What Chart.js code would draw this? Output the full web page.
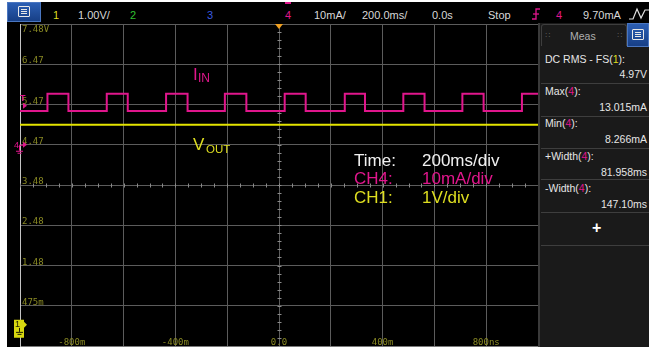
<!DOCTYPE html>
<html>
<head>
<meta charset="utf-8">
<script src="https://cdn.jsdelivr.net/npm/chart.js@4.4.0/dist/chart.umd.min.js"></script>
<style>
body { margin:0; width:649px; height:348px; overflow:hidden; background:#fff; font-family:"Liberation Sans", Arial, sans-serif; }
#scope { position:absolute; left:7px; top:2px; width:642px; height:345px; background:#000; }
#plot { position:absolute; left:7px; top:23px; background:#000; }
.t { position:absolute; line-height:1; white-space:nowrap; }
.bar { font-size:11px; color:#d8d8d8; top:10px; }
.btn { position:absolute; background:linear-gradient(#2c5fb4,#173f86); border:1px solid #4a76c0; box-sizing:border-box; }
.ico { position:absolute; left:50%; top:50%; width:12px; height:11px; margin:-6px 0 0 -6px; border:1px solid #e8e8e8; border-radius:1px; box-sizing:border-box; }
.ico div { position:absolute; left:2px; right:2px; height:1px; background:#e8e8e8; }
#panel { position:absolute; left:538px; top:23px; width:111px; height:324px; background:#1a1a1a; border-left:2px solid #3a3a3a; box-sizing:border-box; }
.sep { position:absolute; left:541px; width:108px; height:1px; background:#3e3e3e; }
.m { font-size:10.5px; color:#e6e6e6; }
.v { right:2px; }
.mag { color:#e0168c; }
.yel { color:#dede20; }
.ann { font-size:17px; }
</style>
</head>
<body>
<div id="scope"></div>

<!-- top status bar -->
<div class="btn" style="left:7px;top:2px;width:34px;height:20px;"><div class="ico"><div style="top:2px"></div><div style="top:4px"></div><div style="top:6px"></div></div></div>
<div class="t bar yel" style="left:53px;">1</div>
<div class="t bar" style="left:78px;">1.00V/</div>
<div class="t bar" style="left:130px;color:#30c030;">2</div>
<div class="t bar" style="left:207px;color:#3a5ae0;">3</div>
<div class="t bar mag" style="left:285px;">4</div>
<div style="position:absolute;left:285px;top:2px;width:6px;height:2px;background:#e0168c;"></div>
<div class="t bar" style="left:314px;">10mA/</div>
<div class="t bar" style="left:362px;">200.0ms/</div>
<div class="t bar" style="left:432px;">0.0s</div>
<div class="t bar" style="left:488px;">Stop</div>
<svg style="position:absolute;left:531px;top:8px;" width="10" height="12"><polyline points="1,11 5,11 5,1 9,1" fill="none" stroke="#e0168c" stroke-width="1.3"/><line x1="2" y1="6" x2="8" y2="6" stroke="#e0168c" stroke-width="1.3"/></svg>
<div class="t bar mag" style="left:556px;">4</div>
<div class="t bar" style="left:583px;">9.70mA</div>
<svg style="position:absolute;left:628px;top:7px;" width="21" height="14"><polyline points="1,12 5,12 9,2 13,11 17,3 21,3" fill="none" stroke="#e0e0e0" stroke-width="1.2"/></svg>

<canvas id="plot" width="532" height="324"></canvas>

<!-- on-screen annotations -->
<div class="t ann mag" style="left:193px;top:66px;">I</div>
<div class="t mag" style="left:198px;top:72px;font-size:12px;">IN</div>
<div class="t ann yel" style="left:193px;top:136px;">V</div>
<div class="t yel" style="left:206px;top:144px;font-size:11.5px;">OUT</div>
<div class="t ann" style="left:354px;top:152px;color:#f0f0f0;">Time:</div>
<div class="t ann" style="left:422px;top:152px;color:#f0f0f0;">200ms/div</div>
<div class="t ann mag" style="left:354px;top:170px;">CH4:</div>
<div class="t ann mag" style="left:422px;top:170px;">10mA/div</div>
<div class="t ann yel" style="left:354px;top:189px;">CH1:</div>
<div class="t ann yel" style="left:422px;top:189px;">1V/div</div>

<!-- measurement panel -->
<div id="panel"></div>
<div style="position:absolute;left:541px;top:24px;width:86px;height:22px;border:1px solid #3e3e3e;border-bottom:none;border-radius:3px 3px 0 0;box-sizing:border-box;"></div>
<div class="t m" style="left:570px;top:31px;color:#b0b0b0;">Meas</div>
<div class="t" style="left:545px;top:31px;font-size:8px;color:#777;letter-spacing:1px;">::</div>
<div class="t" style="left:617px;top:31px;font-size:8px;color:#777;letter-spacing:1px;">::</div>
<div class="btn" style="left:627px;top:23px;width:22px;height:24px;"><div class="ico"><div style="top:2px"></div><div style="top:4px"></div><div style="top:6px"></div></div></div>
<div class="t m" style="left:545px;top:54px;">DC RMS - FS(<span class="yel">1</span>):</div>
<div class="t m v" style="top:69px;">4.97V</div>
<div class="sep" style="top:83px;"></div>
<div class="t m" style="left:545px;top:86px;">Max(<span class="mag">4</span>):</div>
<div class="t m v" style="top:102px;">13.015mA</div>
<div class="sep" style="top:116px;"></div>
<div class="t m" style="left:545px;top:118px;">Min(<span class="mag">4</span>):</div>
<div class="t m v" style="top:134px;">8.266mA</div>
<div class="sep" style="top:148px;"></div>
<div class="t m" style="left:545px;top:151px;">+Width(<span class="mag">4</span>):</div>
<div class="t m v" style="top:167px;">81.958ms</div>
<div class="sep" style="top:179px;"></div>
<div class="t m" style="left:545px;top:183px;">-Width(<span class="mag">4</span>):</div>
<div class="t m v" style="top:199px;">147.10ms</div>
<div class="sep" style="top:212px;"></div>
<div class="t" style="left:592px;top:220px;font-size:16px;font-weight:bold;color:#fff;">+</div>
<div class="sep" style="top:245px;"></div>

<script>
// time in ms, CH1 in volts, CH4 in mA
var riseTimes = [-894, -665, -436, -209, 22, 254, 480, 708, 938];
var fallTimes = [-813, -584, -353, -126, 103, 332, 562, 790];
var currentLow = 8.4;
var currentHigh = 12.7;
var voutLevel = 4.97;
var triggerLevel = 9.70;

// CH1 grid rows (volts) and the labels the scope prints on them
var yTickVals = [-0.525, 0.475, 1.475, 2.475, 3.475, 4.475, 5.475, 6.475, 7.475];
var yTickText = ['', '475m', '1.48', '2.48', '3.48', '4.47', '5.47', '6.47', '7.48V'];
var xLabelVals = [-800, -400, 0, 400, 800];
var xLabelText = ['-800m', '-400m', '0.0', '400m', '800ns'];

function buildCurrent() { // square wave from the edge times
  var pts = [{x: -1000, y: currentLow}];
  for (var i = 0; i < riseTimes.length; i++) {
    pts.push({x: riseTimes[i], y: currentLow}, {x: riseTimes[i], y: currentHigh});
    if (i < fallTimes.length) {
      pts.push({x: fallTimes[i], y: currentHigh}, {x: fallTimes[i], y: currentLow});
    }
  }
  pts.push({x: 1000, y: currentHigh});
  return pts;
}

var olive = '#8a8a24';

var scopeMarks = {
  id: 'scopeMarks',
  beforeDatasetsDraw: function(chart) {
    var ctx = chart.ctx, a = chart.chartArea;
    var sx = chart.scales.x, sy = chart.scales.y;
    ctx.save();
    // minor ticks on the centre lines
    ctx.strokeStyle = '#8a8a8a';
    ctx.lineWidth = 1;
    var cy = Math.round(sy.getPixelForValue(3.475)) + 0.5;
    for (var t = -1000; t <= 1000; t += 50) {
      var px = Math.round(sx.getPixelForValue(t)) + 0.5;
      ctx.beginPath(); ctx.moveTo(px, cy - 2); ctx.lineTo(px, cy + 2); ctx.stroke();
    }
    var cx = Math.round(sx.getPixelForValue(0)) + 0.5;
    for (var v = -0.525; v <= 7.5; v += 0.2) {
      var py = Math.round(sy.getPixelForValue(v)) + 0.5;
      ctx.beginPath(); ctx.moveTo(cx - 2, py); ctx.lineTo(cx + 2, py); ctx.stroke();
    }
    // axis labels
    ctx.fillStyle = olive;
    ctx.font = '9px "DejaVu Sans Mono", monospace';
    ctx.textAlign = 'left';
    ctx.textBaseline = 'alphabetic';
    for (var i = 0; i < yTickVals.length; i++) {
      if (!yTickText[i]) continue;
      var ly = sy.getPixelForValue(yTickVals[i]);
      if (i === yTickVals.length - 1) ly = a.top + 8; else ly = ly - 1;
      ctx.fillText(yTickText[i], a.left + 2, ly);
    }
    ctx.textAlign = 'center';
    for (var j = 0; j < xLabelVals.length; j++) {
      ctx.fillText(xLabelText[j], sx.getPixelForValue(xLabelVals[j]), a.bottom - 1);
    }
    ctx.restore();
  },
  afterDraw: function(chart) {
    var ctx = chart.ctx, a = chart.chartArea;
    var sx = chart.scales.x, sy = chart.scales.y, si = chart.scales.yI;
    ctx.save();
    // trigger time marker
    var tx = sx.getPixelForValue(0);
    ctx.fillStyle = '#f0a020';
    ctx.beginPath(); ctx.moveTo(tx - 4, a.top); ctx.lineTo(tx + 4, a.top); ctx.lineTo(tx, a.top + 5); ctx.fill();
    // trigger level marker
    var ty = si.getPixelForValue(triggerLevel);
    ctx.fillStyle = '#e0168c';
    ctx.strokeStyle = '#e0168c';
    ctx.font = 'bold 9px "Liberation Sans", Arial';
    ctx.textAlign = 'left';
    ctx.fillText('T', 13, ty - 5);
    ctx.beginPath(); ctx.moveTo(16, ty - 3); ctx.lineTo(20, ty); ctx.lineTo(16, ty + 3); ctx.fill();
    // CH4 ground marker
    var g4 = si.getPixelForValue(0);
    ctx.font = '9px "Liberation Sans", Arial';
    ctx.fillText('4', 7, g4 + 3);
    ctx.lineWidth = 1;
    ctx.beginPath(); ctx.moveTo(12, g4 + 0.5); ctx.lineTo(17, g4 + 0.5); ctx.stroke();
    ctx.beginPath(); ctx.moveTo(16, g4 - 3); ctx.lineTo(20, g4); ctx.lineTo(16, g4 + 3); ctx.fill();
    ctx.beginPath(); ctx.moveTo(12.5, g4 + 1); ctx.lineTo(12.5, g4 + 6); ctx.stroke();
    ctx.beginPath(); ctx.moveTo(9, g4 + 6.5); ctx.lineTo(16, g4 + 6.5); ctx.moveTo(10.5, g4 + 8.5); ctx.lineTo(14.5, g4 + 8.5); ctx.stroke();
    // CH1 ground marker
    var g1 = sy.getPixelForValue(0);
    ctx.fillStyle = '#d8d810';
    ctx.beginPath();
    ctx.moveTo(7, g1 - 5); ctx.lineTo(17, g1 - 5); ctx.lineTo(17, g1 - 3); ctx.lineTo(20, g1);
    ctx.lineTo(17, g1 + 3); ctx.lineTo(17, g1 + 13); ctx.lineTo(7, g1 + 13); ctx.closePath(); ctx.fill();
    ctx.fillStyle = '#202000';
    ctx.strokeStyle = '#202000';
    ctx.fillText('1', 8, g1 + 2);
    ctx.beginPath(); ctx.moveTo(12.5, g1 + 3); ctx.lineTo(12.5, g1 + 7); ctx.stroke();
    ctx.beginPath(); ctx.moveTo(9, g1 + 7.5); ctx.lineTo(16, g1 + 7.5); ctx.moveTo(10.5, g1 + 9.5); ctx.lineTo(14.5, g1 + 9.5); ctx.stroke();
    ctx.restore();
  }
};

var gridColor = '#5c5c5c';

var ctx = document.getElementById('plot').getContext('2d');
var scopeChart = new Chart(ctx, {
  type: 'line',
  data: {
    datasets: [
      {
        label: 'CH1 Vout',
        data: [{x: -1000, y: voutLevel}, {x: 1000, y: voutLevel}],
        yAxisID: 'y',
        borderColor: '#e4e400',
        borderWidth: 2
      },
      {
        label: 'CH4 Iin',
        data: buildCurrent(),
        yAxisID: 'yI',
        borderColor: '#e0168c',
        borderWidth: 2
      }
    ]
  },
  options: {
    animation: false,
    responsive: false,
    devicePixelRatio: 1,
    layout: {padding: {left: 13, right: 1, top: 1, bottom: 1}},
    elements: {point: {radius: 0}, line: {tension: 0}},
    plugins: {legend: {display: false}, tooltip: {enabled: false}},
    scales: {
      x: {
        type: 'linear', min: -1000, max: 1000,
        ticks: {display: false, stepSize: 200},
        grid: {drawTicks: false, color: function(c) { return c.index === 10 ? '#a0a0a0' : gridColor; }},
        border: {display: false}
      },
      y: {
        min: -0.525, max: 7.475,
        afterBuildTicks: function(scale) {
          scale.ticks = yTickVals.map(function(v) { return {value: v}; });
        },
        ticks: {display: false},
        grid: {drawTicks: false, color: function(c) { return c.index === 0 ? '#7a7a7a' : gridColor; }},
        border: {color: '#c4c4c4'}
      },
      yI: {min: -50, max: 30, display: false}
    }
  },
  plugins: [scopeMarks]
});
</script>
</body>
</html>
